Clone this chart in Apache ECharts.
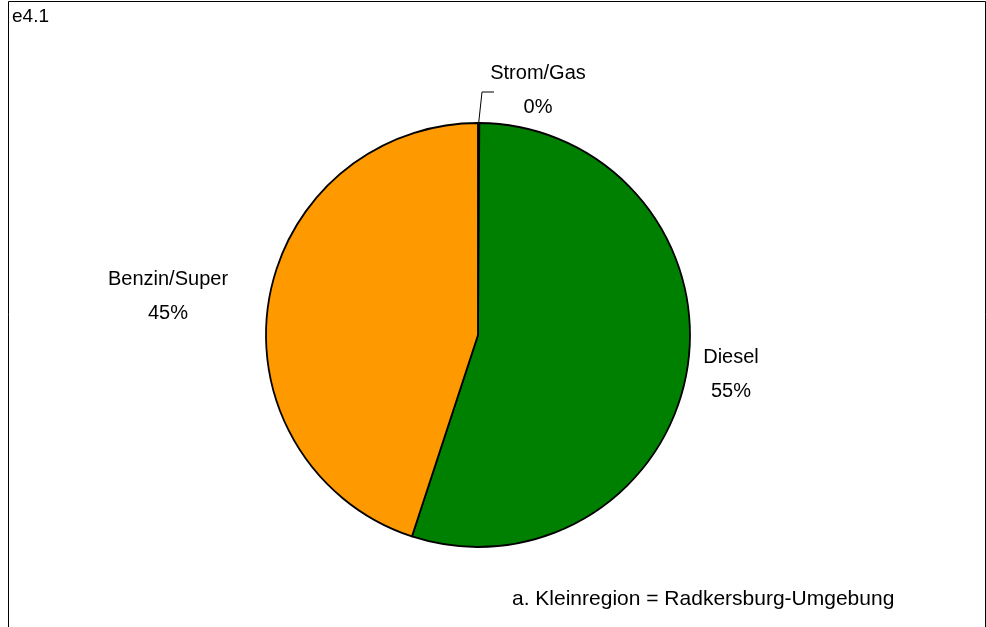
<!DOCTYPE html>
<html>
<head>
<meta charset="utf-8">
<script src="https://cdn.jsdelivr.net/npm/echarts@6/dist/echarts.min.js"></script>
<style>
  html, body { margin: 0; padding: 0; background: #fff; }
  #chart { width: 986px; height: 627px; }
</style>
</head>
<body>
<div id="chart"></div>
<script>
// Fuel type shares for the small region
const categories = ['Strom/Gas', 'Diesel', 'Benzin/Super'];
const shares = [0.1, 55, 45];
const colors = ['#FFFFFF', '#008000', '#FF9900'];
const cornerLabel = 'e4.1';
const footnote = 'a. Kleinregion = Radkersburg-Umgebung';

const FONT = '"Liberation Sans", Arial, sans-serif';
const total = shares.reduce((a, b) => a + b, 0);

const chart = echarts.init(document.getElementById('chart'), null, { renderer: 'canvas' });

const center = [478, 335];
const radius = 212;

// label anchor positions (text centre) for the two large slices
const labelPos = {
  'Diesel': [731, 374],
  'Benzin/Super': [168, 296]
};

chart.setOption({
  animation: false,
  backgroundColor: '#fff',
  graphic: [
    {
      type: 'rect',
      shape: { x: 8.5, y: 1.5, width: 977, height: 640 },
      style: { fill: 'none', stroke: '#000', lineWidth: 1 },
      silent: true
    },
    {
      type: 'text',
      left: 12, top: 7,
      style: { text: cornerLabel, font: '19px ' + FONT, fill: '#000' }
    },
    {
      type: 'text',
      left: 512, top: 589,
      style: { text: footnote, font: '21px ' + FONT, fill: '#000' }
    }
  ],
  series: [{
    type: 'pie',
    center: center,
    radius: radius,
    startAngle: 90,
    clockwise: true,
    minAngle: 0,
    avoidLabelOverlap: false,
    itemStyle: { borderColor: '#000', borderWidth: 1.8 },
    label: {
      show: true,
      position: 'outside',
      color: '#000',
      fontFamily: FONT,
      fontSize: 20,
      lineHeight: 34,
      align: 'center',
      formatter: p => p.name + '\n' + Math.round(p.value / total * 100) + '%'
    },
    labelLine: { show: false, lineStyle: { color: '#000', width: 1 } },
    labelLayout: function (params) {
      const name = categories[params.dataIndex];
      if (labelPos[name]) {
        return { x: labelPos[name][0], y: labelPos[name][1], align: 'center', verticalAlign: 'middle' };
      }
      const start = params.labelLinePoints ? params.labelLinePoints[0] : [480, 123];
      return { x: 538, y: 90, align: 'center', verticalAlign: 'middle',
               labelLinePoints: [[start[0], start[1]], [482, 92], [494, 92]] };
    },
    data: categories.map((c, i) => ({
      name: c,
      value: shares[i],
      itemStyle: { color: colors[i] },
      labelLine: i === 0
        ? { show: true, length: 30, length2: 12, lineStyle: { color: '#000', width: 1, opacity: 1 } }
        : { show: false }
    }))
  }]
});
</script>
</body>
</html>
